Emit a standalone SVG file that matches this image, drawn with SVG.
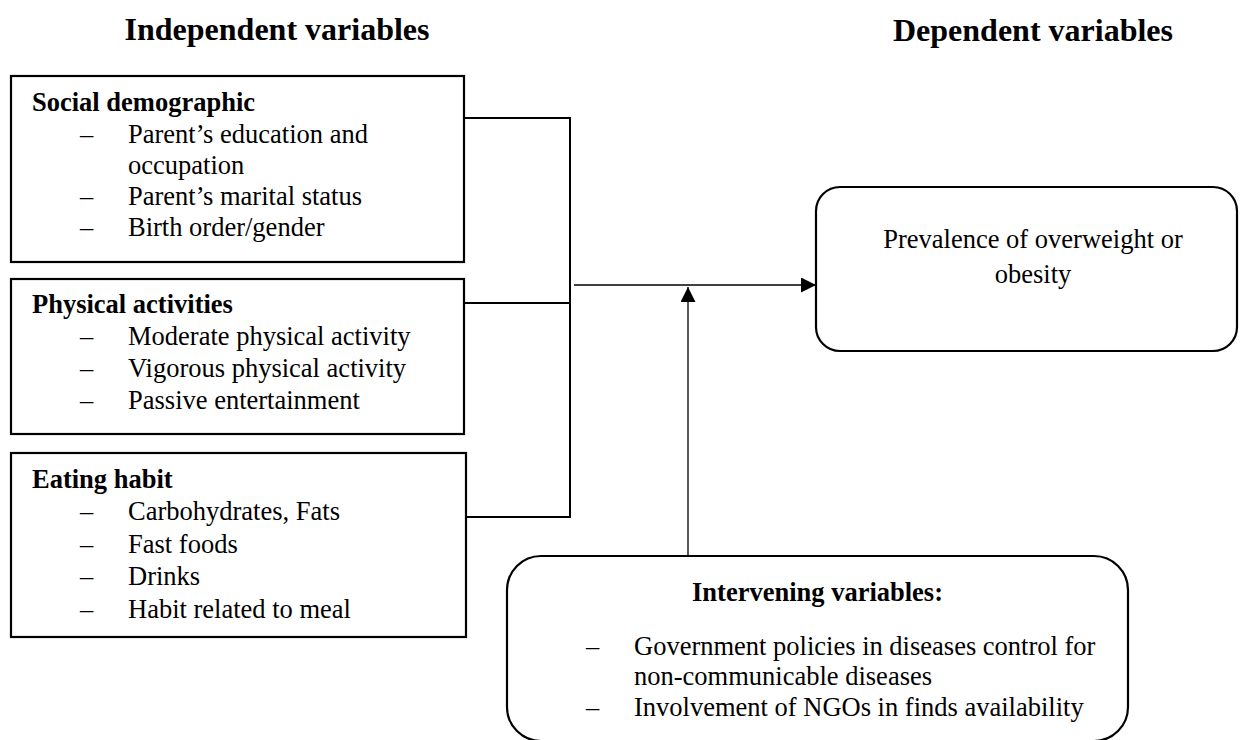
<svg xmlns="http://www.w3.org/2000/svg" width="1240" height="740" viewBox="0 0 1240 740">
<style>
text{font-family:"Liberation Serif","Times New Roman",serif;fill:#000;}
.t{font-size:32px;font-weight:bold;text-anchor:middle;}
.h{font-size:26.5px;font-weight:bold;}
.i{font-size:26.5px;}
.c{text-anchor:middle;}
.box{fill:#fff;stroke:#000;stroke-width:2.2;}
.ln{fill:none;stroke:#000;stroke-width:2;}
.ar{fill:none;stroke:#000;stroke-width:1.3;}
</style>
<defs>
<marker id="ah" viewBox="0 0 15 15" refX="15" refY="7.5" markerWidth="15" markerHeight="15" markerUnits="userSpaceOnUse" orient="auto">
<path d="M0,0 L15,7.5 L0,15 Z" fill="#000"/>
</marker>
</defs>
<rect width="1240" height="740" fill="#fff"/>
<text class="t" x="277" y="40">Independent variables</text>
<text class="t" x="1033" y="41">Dependent variables</text>

<g id="connectors">
<path class="ln" d="M464,118 H570 V517 H466"/>
<path class="ln" d="M464,303 H570"/>
<path class="ar" d="M574,285 H816" marker-end="url(#ah)"/>
<path class="ar" d="M688,556 V287" marker-end="url(#ah)"/>
</g>

<g id="social">
<rect class="box" x="11" y="76" width="453" height="186"/>
<text class="h" x="32" y="111">Social demographic</text>
<text class="i" x="80" y="143">–</text><text class="i" x="128" y="143">Parent’s education and</text>
<text class="i" x="128" y="174">occupation</text>
<text class="i" x="80" y="205">–</text><text class="i" x="128" y="205">Parent’s marital status</text>
<text class="i" x="80" y="236">–</text><text class="i" x="128" y="236">Birth order/gender</text>
</g>

<g id="physical">
<rect class="box" x="11" y="279" width="453" height="155"/>
<text class="h" x="32" y="313">Physical activities</text>
<text class="i" x="80" y="345">–</text><text class="i" x="128" y="345">Moderate physical activity</text>
<text class="i" x="80" y="377">–</text><text class="i" x="128" y="377">Vigorous physical activity</text>
<text class="i" x="80" y="409">–</text><text class="i" x="128" y="409">Passive entertainment</text>
</g>

<g id="eating">
<rect class="box" x="11" y="453" width="455" height="184"/>
<text class="h" x="32" y="488">Eating habit</text>
<text class="i" x="80" y="520">–</text><text class="i" x="128" y="520">Carbohydrates, Fats</text>
<text class="i" x="80" y="553">–</text><text class="i" x="128" y="553">Fast foods</text>
<text class="i" x="80" y="585">–</text><text class="i" x="128" y="585">Drinks</text>
<text class="i" x="80" y="618">–</text><text class="i" x="128" y="618">Habit related to meal</text>
</g>

<g id="dependent">
<rect class="box" x="816" y="187" width="421" height="164" rx="24" ry="24"/>
<text class="i c" x="1033" y="248">Prevalence of overweight or</text>
<text class="i c" x="1033" y="283">obesity</text>
</g>

<g id="intervening">
<rect class="box" x="507" y="556" width="621" height="185" rx="34" ry="34"/>
<text class="h c" x="817.5" y="601">Intervening variables:</text>
<text class="i" x="586" y="655">–</text><text class="i" x="634" y="655">Government policies in diseases control for</text>
<text class="i" x="634" y="685">non-communicable diseases</text>
<text class="i" x="586" y="716">–</text><text class="i" x="634" y="716">Involvement of NGOs in finds availability</text>
</g>
</svg>
